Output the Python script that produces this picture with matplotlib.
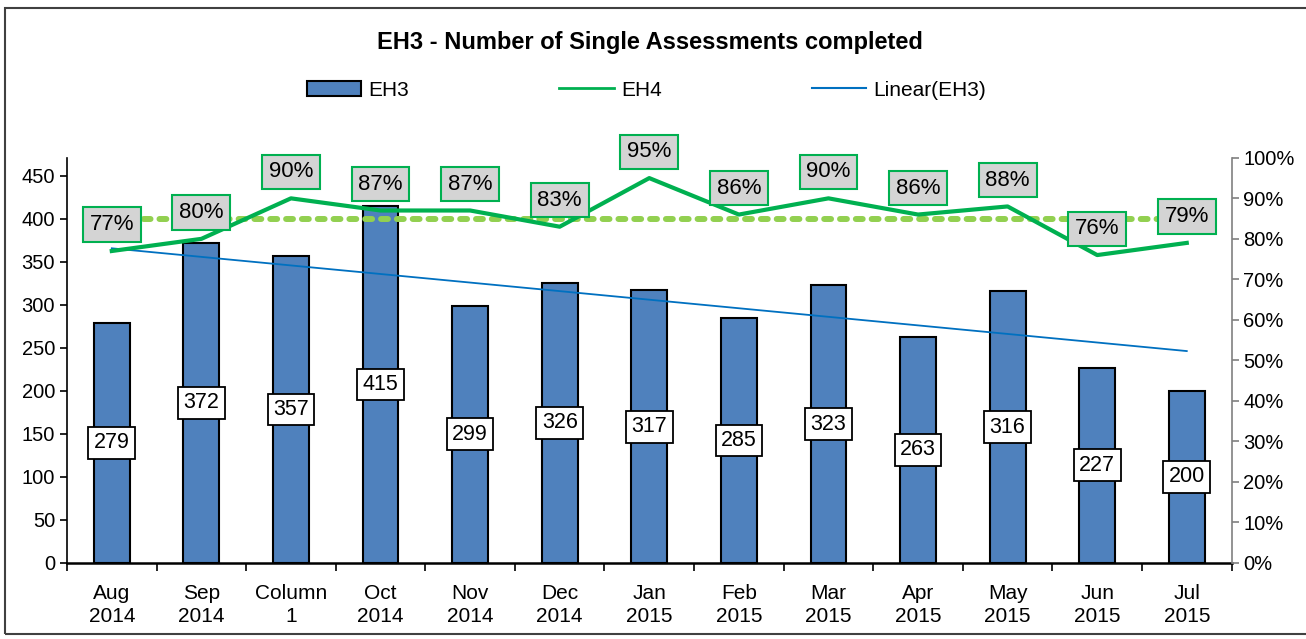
import numpy as np
import matplotlib
matplotlib.use("Agg")
import matplotlib.pyplot as plt
from matplotlib.patches import Patch, Rectangle
from matplotlib.lines import Line2D

plt.rcParams['font.family'] = ['Liberation Sans', 'DejaVu Sans']

# data
months = ["Aug\n2014", "Sep\n2014", "Column\n1", "Oct\n2014", "Nov\n2014", "Dec\n2014",
          "Jan\n2015", "Feb\n2015", "Mar\n2015", "Apr\n2015", "May\n2015", "Jun\n2015", "Jul\n2015"]
eh3 = [279, 372, 357, 415, 299, 326, 317, 285, 323, 263, 316, 227, 200]
eh4 = [77, 80, 90, 87, 87, 83, 95, 86, 90, 86, 88, 76, 79]
target = 85
left_ticks = [0, 50, 100, 150, 200, 250, 300, 350, 400, 450]
right_ticks = [0, 10, 20, 30, 40, 50, 60, 70, 80, 90, 100]

bar_color = "#4F81BD"
eh4_color = "#00B050"
target_color = "#92D050"
trend_color = "#0070C0"
fs = 14.5

fig = plt.figure(figsize=(13.06, 6.39), dpi=100)
ax = fig.add_axes([0.0513, 0.119, 0.8917, 0.634])
x = np.arange(len(months))

# bars
ax.bar(x, eh3, width=0.4, color=bar_color, edgecolor="black", linewidth=1.5, zorder=2)
for xi, v in zip(x, eh3):
    ax.text(xi, v / 2, str(v), ha="center", va="center", fontsize=15.5, zorder=5,
            bbox=dict(boxstyle="square,pad=0.25", fc="white", ec="black", lw=1.3))

# linear trend of EH3
coef = np.polyfit(x, eh3, 1)
ax.plot(x, np.polyval(coef, x), color=trend_color, lw=1.3, zorder=3)

ax.set_xlim(-0.5, len(months) - 0.5)
ax.set_ylim(0, 471)
ax.set_yticks(left_ticks)
ax.tick_params(axis="y", labelsize=fs, length=5, width=1.2, direction="out")
ax.set_xticks(np.arange(-0.5, len(months), 1.0))
ax.set_xticklabels([])
ax.set_xticks(x, minor=True)
ax.set_xticklabels(months, minor=True, fontsize=15, linespacing=1.3)
ax.tick_params(axis="x", which="major", length=6, width=1.2, direction="out")
ax.tick_params(axis="x", which="minor", length=0, pad=15)
ax.spines["top"].set_visible(False)
ax.spines["right"].set_visible(False)
ax.spines["left"].set_linewidth(1.2)
ax.spines["bottom"].set_linewidth(1.8)

# secondary axis for EH4
ax2 = ax.twinx()
ax2.set_ylim(0, 100)
ax2.set_yticks(right_ticks)
ax2.set_yticklabels([f"{t}%" for t in right_ticks], fontsize=fs)
ax2.tick_params(axis="y", length=5, width=1.2, color="#808080")
ax2.spines["right"].set_color("#808080")
ax2.spines["right"].set_linewidth(1.2)
for s in ["top", "left", "bottom"]:
    ax2.spines[s].set_visible(False)

ax2.plot(x, [target] * len(x), color=target_color, lw=4.3, linestyle=(0, (1.15, 1.5)),
         dash_capstyle="round", zorder=3)
ax2.plot(x, eh4, color=eh4_color, lw=3, zorder=4)
for xi, v in zip(x, eh4):
    ax2.annotate(f"{v}%", (xi, v), xytext=(0, 19), textcoords="offset points",
                 ha="center", va="center", fontsize=16, zorder=6,
                 bbox=dict(boxstyle="square,pad=0.3", fc="#D4D4D4", ec=eh4_color, lw=1.5))

fig.text(0.498, 0.934, "EH3 - Number of Single Assessments completed", ha="center",
         va="center", fontsize=17, fontweight="bold")

handles = [Patch(facecolor=bar_color, edgecolor="black", linewidth=1.5),
           Line2D([], [], color=eh4_color, lw=2),
           Line2D([], [], color=trend_color, lw=1.5)]
fig.legend(handles, ["EH3", "EH4", "Linear(EH3)"], loc="center", ncol=3,
           bbox_to_anchor=(0.495, 0.859), frameon=False, fontsize=15,
           handlelength=2.6, handleheight=0.75, columnspacing=7.2, handletextpad=0.35)

# outer chart border
fig.patches.append(Rectangle((0.004, 0.008), 1.1, 0.98, transform=fig.transFigure,
                             fill=False, ec="#404040", lw=1.5))

fig.savefig("out.png", dpi=100)
